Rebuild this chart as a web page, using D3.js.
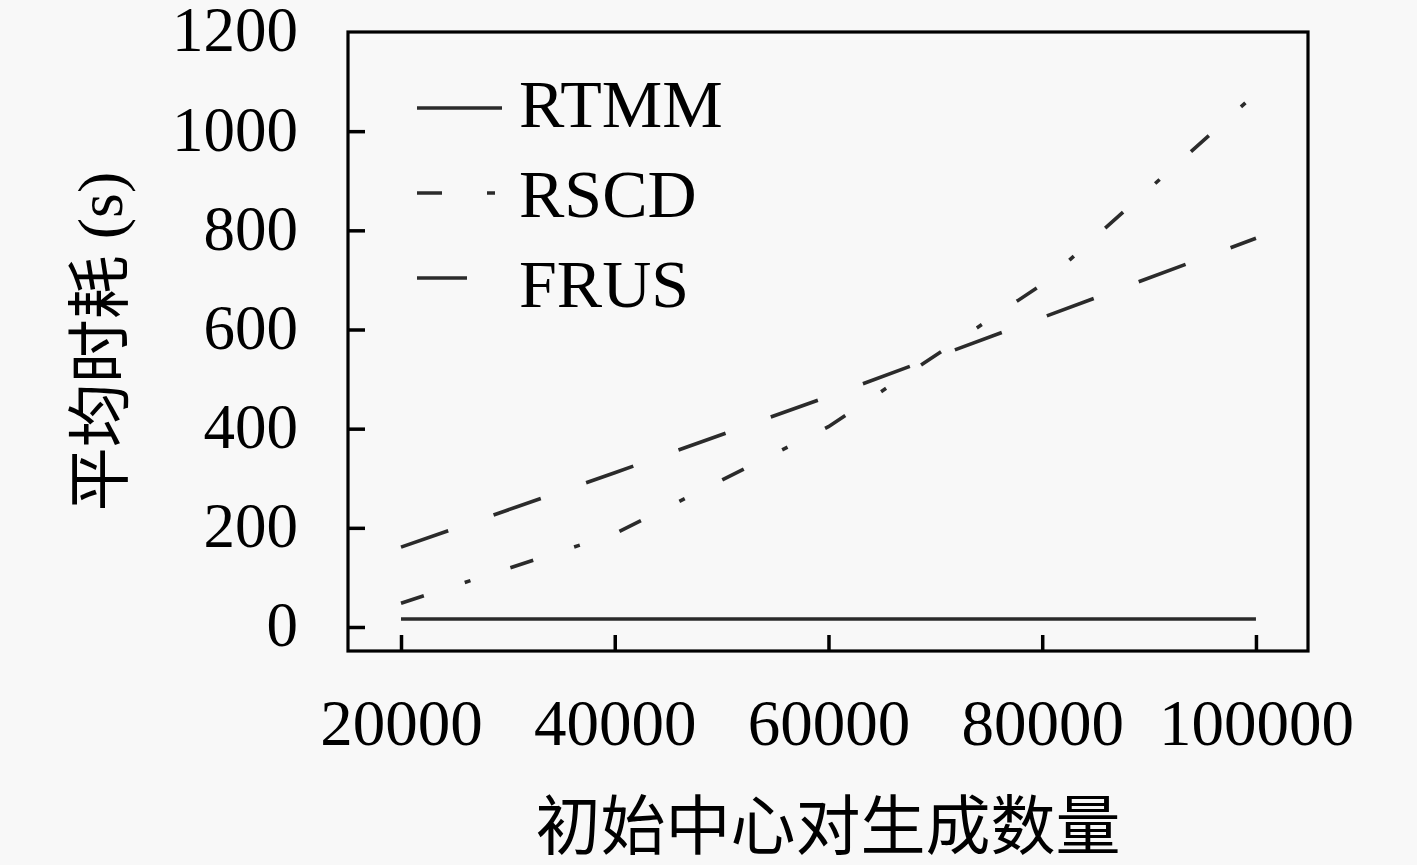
<!DOCTYPE html>
<html>
<head>
<meta charset="utf-8">
<script src="https://cdn.jsdelivr.net/npm/d3@7"></script>
<style>
  html, body { margin: 0; padding: 0; background: #f8f8f8; }
  svg { display: block; }
</style>
</head>
<body>
<svg id="chart"></svg>
<script>
// data
const xValues = [20000, 40000, 60000, 80000, 100000];
const rtmm = [16, 16, 16, 16, 16];
const rscd = [48, 188, 404, 691, 1076];
const frus = [161, 311, 465, 624, 784];

const xTicks = [20000, 40000, 60000, 80000, 100000];
const yTicks = [0, 200, 400, 600, 800, 1000, 1200];

const seriesNames = ["RTMM", "RSCD", "FRUS"];
const seriesDash = ["none", "24,43,6,42", "50,48"];

const xTitle = "初始中心对生成数量";
const yTitle = "平均时耗";

const width = 1417, height = 865;
const margin = {left: 348, right: 1417 - 1308, top: 32, bottom: 865 - 651};

const svg = d3.select("#chart").attr("width", width).attr("height", height);
svg.append("rect").attr("width", width).attr("height", height).attr("fill", "#f8f8f8");

const x = d3.scaleLinear().domain([15040, 104870]).range([margin.left, width - margin.right]);
const y = d3.scaleLinear().domain([-48.4, 1200]).range([height - margin.bottom, margin.top]);

const serif = "'Liberation Serif', 'Times New Roman', serif";
const cjk = "'Noto Sans CJK SC', sans-serif";

// lines
const series = [rtmm, rscd, frus];
const line = d3.line().x((d, i) => x(xValues[i])).y(d => y(d));

series.forEach((vals, k) => {
    svg.append("path")
        .datum(vals)
        .attr("d", line)
        .attr("fill", "none")
        .attr("stroke", "#2b2b2b")
        .attr("stroke-width", 3.6)
        .attr("stroke-dasharray", seriesDash[k]);
});

// axes with inward ticks
const xAxis = svg.append("g")
    .attr("transform", `translate(0,${height - margin.bottom})`)
    .call(d3.axisBottom(x).tickValues(xTicks).tickSize(-16).tickPadding(48).tickFormat(d3.format("d")));
const yAxis = svg.append("g")
    .attr("transform", `translate(${margin.left},0)`)
    .call(d3.axisLeft(y).tickValues(yTicks).tickSize(-17).tickPadding(50).tickFormat(d3.format("d")));

[xAxis, yAxis].forEach(g => {
    g.select(".domain").remove();
    g.selectAll(".tick line").attr("stroke", "#000").attr("stroke-width", 3.5);
    g.selectAll(".tick text").attr("fill", "#000").style("font-family", serif);
});
xAxis.selectAll(".tick text").style("font-size", "65px");
yAxis.selectAll(".tick text").style("font-size", "63px").attr("dy", "0.3em");
yAxis.selectAll(".tick").filter(d => d === 1200).select("line").remove();

// frame
svg.append("rect")
    .attr("x", margin.left).attr("y", margin.top)
    .attr("width", width - margin.left - margin.right)
    .attr("height", height - margin.top - margin.bottom)
    .attr("fill", "none").attr("stroke", "#000").attr("stroke-width", 3.2);

// axis titles
svg.append("text")
    .attr("x", (margin.left + width - margin.right) / 2)
    .attr("y", 849)
    .attr("text-anchor", "middle")
    .style("font-family", cjk).style("font-size", "65px")
    .text(xTitle);

const yt = svg.append("text")
    .attr("transform", `translate(122,${(margin.top + height - margin.bottom) / 2}) rotate(-90)`)
    .attr("text-anchor", "middle")
    .style("font-size", "64px");
yt.append("tspan").style("font-family", cjk).text(yTitle);
yt.append("tspan").style("font-family", serif).text(" (s)");

// legend
const legend = svg.append("g");
seriesNames.forEach((name, i) => {
    legend.append("line")
        .attr("x1", 417).attr("x2", 502)
        .attr("y1", 108 + i * 85).attr("y2", 108 + i * 85)
        .attr("stroke", "#2b2b2b")
        .attr("stroke-width", 3.6)
        .attr("stroke-dasharray", i === 1 ? "25,45,8,40" : seriesDash[i]);
    legend.append("text")
        .attr("x", 519).attr("y", 127 + i * 90)
        .style("font-family", serif).style("font-size", "68px")
        .attr("fill", "#000")
        .text(name);
});
</script>
</body>
</html>
